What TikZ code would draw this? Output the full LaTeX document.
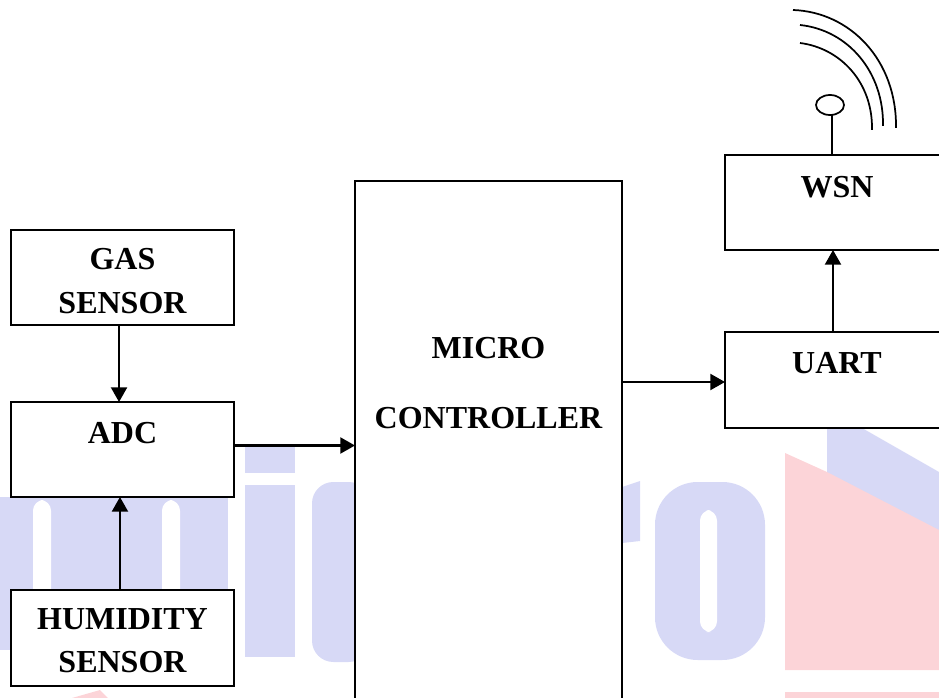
\documentclass[tikz,border=0pt]{standalone}
\usepackage{fontspec}
\setmainfont{Liberation Serif}
\definecolor{wmlavender}{RGB}{215,217,246}
\definecolor{wmpink}{RGB}{252,212,216}
\usetikzlibrary{arrows.meta,positioning,shapes.geometric,calc}
\tikzset{
  blockbox/.style={draw=black, fill=white, line width=1.5pt, outer sep=0pt, inner sep=0pt, align=center, font=\fontsize{24}{29}\selectfont\bfseries},
  flowarrow/.style={-{Triangle[length=11pt,width=12pt]}, line width=1.6pt},
  wavearc/.style={line width=1.3pt}
}
\begin{document}
\begin{tikzpicture}[x=0.75pt, y=-0.75pt]
  \useasboundingbox (0,0) rectangle (939,698);
  \clip (0,0) rectangle (939,698);

  % Watermark behind the blocks
  \fill[wmlavender] (0,497) rectangle (228,650);
  \fill[white, rounded corners=8pt] (33,500) rectangle (51,640);
  \fill[white, rounded corners=8pt] (162,500) rectangle (180,640);
  \fill[wmlavender] (245,445) rectangle (295,473);
  \fill[wmlavender] (245,485) rectangle (295,657);
  \fill[wmlavender, rounded corners=16pt] (312,482) rectangle (370,662);
  \fill[wmlavender] (622,487) -- (640,481) -- (640,541) -- (622,543) -- cycle;
  \fill[wmlavender, rounded corners=32pt] (655,482) rectangle (765,660);
  \fill[white, rounded corners=8pt] (700,510) rectangle (717,632);
  \fill[wmlavender] (827,428) -- (862,428) -- (939,472) -- (939,535) -- (827,475) -- cycle;
  \fill[wmpink] (785,453) -- (827,472) -- (939,530) -- (939,670) -- (785,670) -- cycle;
  \fill[wmpink] (785,692) rectangle (939,698);
  \fill[wmpink] (72,698) -- (100,690) -- (108,698) -- cycle;

  % Blocks
  \node[blockbox, minimum width=167.25pt, minimum height=71.25pt, text height=53.5pt] (gas) at (122.5,277.5) {GAS\\[4pt]SENSOR};
  \node[blockbox, minimum width=167.25pt, minimum height=71.25pt, text depth=24.8pt] (adc) at (122.5,449.5) {ADC};
  \node[blockbox, minimum width=167.25pt, minimum height=72pt, text height=52.2pt] (humidity) at (122.5,638) {HUMIDITY\\[3.25pt]SENSOR};
  \node[blockbox, minimum width=200.25pt, minimum height=393pt, text depth=90pt] (mcu) at (488.5,443) {MICRO\\[23.5pt]CONTROLLER};
  \node[blockbox, minimum width=168pt, minimum height=72pt, text depth=25.5pt] (uart) at (837,380) {UART};
  \node[blockbox, minimum width=168pt, minimum height=71.25pt, text depth=23.2pt] (wsn) at (837,202.5) {WSN};

  % Arrows between blocks
  \draw[flowarrow] ([xshift=-2.6pt]gas.south) -- ([xshift=-2.6pt]adc.north);
  \draw[flowarrow] ([xshift=-1.9pt]humidity.north) -- ([xshift=-1.9pt]adc.south);
  \draw[flowarrow] ([yshift=3pt]adc.east) -- ([yshift=3pt]adc.east -| mcu.west);
  \draw[flowarrow] ([yshift=-1.5pt]mcu.east |- uart.west) -- ([yshift=-1.5pt]uart.west);
  \draw[flowarrow] ([xshift=-3pt]uart.north) -- ([xshift=-3pt]wsn.south);

  % Antenna
  \node[draw=black, line width=1.3pt, ellipse, minimum width=21pt, minimum height=15pt, inner sep=0pt, outer sep=0pt] (aerial) at (830,105) {};
  \draw[line width=1.5pt] ([xshift=1.5pt]aerial.south) -- ([xshift=1.5pt]aerial.south |- wsn.north);
  \draw[wavearc] (793,10) .. controls (850,12) and (897,60) .. (896,128);
  \draw[wavearc] (800,25) .. controls (848,30) and (884,72) .. (883,126);
  \draw[wavearc] (800,43) .. controls (840,48) and (873,82) .. (872,130);
\end{tikzpicture}
\end{document}
